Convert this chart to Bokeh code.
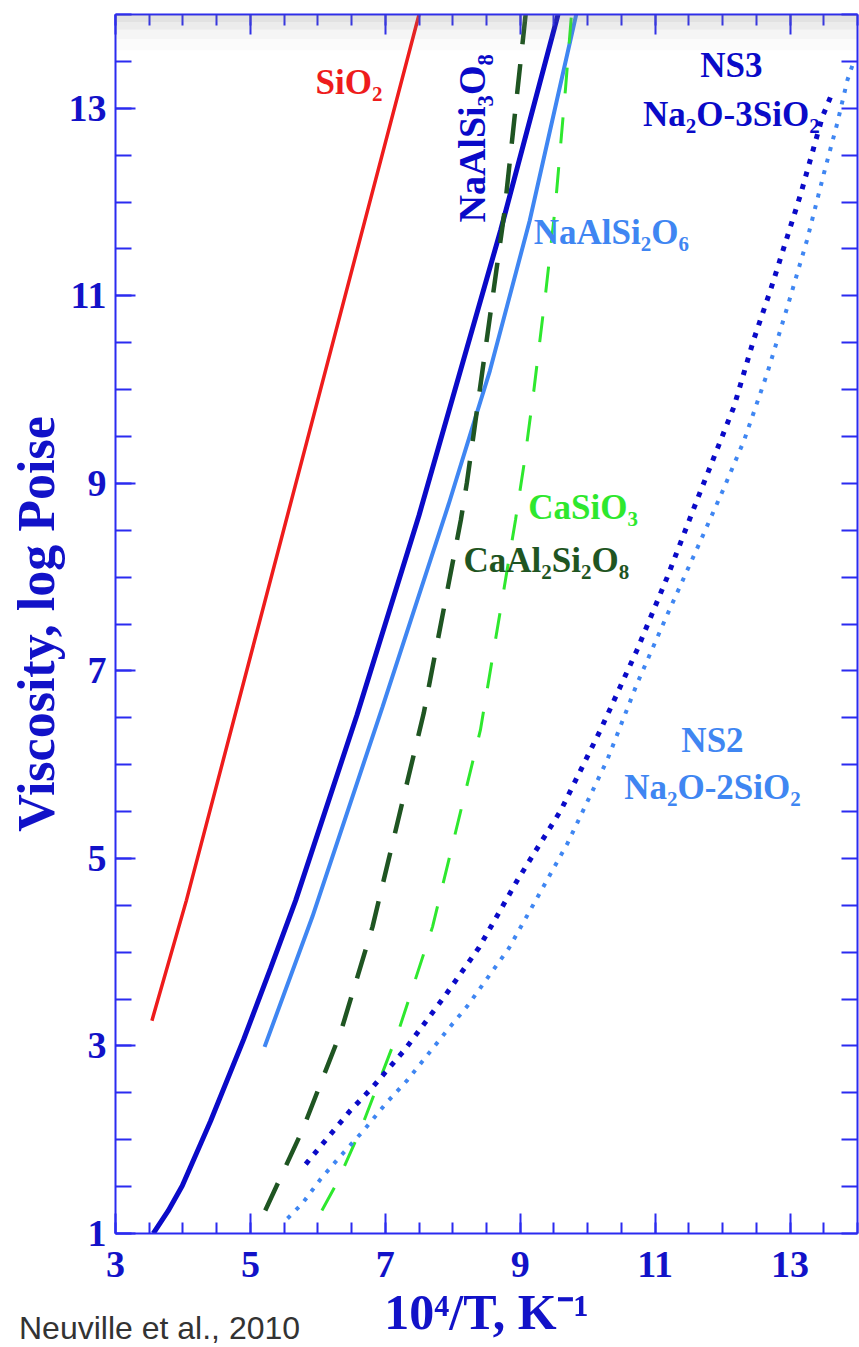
import numpy as np
from bokeh.plotting import figure
from bokeh.models import FixedTicker, LinearAxis, Label, Range1d, BoxAnnotation, Div
from bokeh.layouts import column
from bokeh.embed import file_html
from bokeh.resources import INLINE

# ---------------- data ----------------
sio2_x = [3.54, 4.05, 5.55, 7.50]
sio2_y = [3.27, 4.55, 8.66, 14.0]

albite_x = [3.56, 3.78, 3.99, 4.41, 4.90, 5.30, 5.67, 6.58, 7.50, 8.71, 9.56]
albite_y = [1.00, 1.24, 1.51, 2.20, 3.07, 3.83, 4.55, 6.53, 8.66, 11.70, 14.0]

jadeite_x = [5.21, 5.92, 6.96, 7.94, 8.55, 9.14, 9.83]
jadeite_y = [2.99, 4.38, 6.62, 8.78, 10.20, 11.80, 14.0]

anorthite_x = [5.22, 5.77, 6.34, 6.81, 7.57, 8.12, 8.21, 8.76, 9.08]
anorthite_y = [1.245, 2.10, 3.15, 4.27, 6.55, 8.61, 9.01, 11.86, 14.0]

wollastonite_x = [6.06, 6.29, 6.63, 7.20, 7.70, 8.41, 8.93, 9.06, 9.20, 9.38, 9.52, 9.67, 9.76]
wollastonite_y = [1.245, 1.55, 2.10, 3.17, 4.27, 6.37, 8.61, 9.22, 9.98, 11.05, 11.95, 13.20, 14.0]

ns3_x = [5.82, 6.48, 6.81, 7.30, 7.87, 8.39, 8.96, 9.60, 10.19, 10.73, 11.18, 11.62, 12.17, 12.46, 12.71, 13.16, 13.48, 13.60]
ns3_y = [1.74, 2.31, 2.56, 2.97, 3.52, 4.05, 4.77, 5.51, 6.37, 7.22, 8.00, 8.82, 9.82, 10.53, 11.06, 12.09, 12.91, 13.12]

ns2_x = [5.55, 5.77, 6.04, 6.34, 6.68, 7.00, 7.32, 7.62, 7.92, 8.21, 8.51, 8.83, 9.15, 9.70, 10.29, 10.73, 11.18, 11.65, 12.02, 12.32, 12.66, 12.96, 13.25, 13.50, 13.70, 13.85, 13.95]
ns2_y = [1.16, 1.32, 1.58, 1.83, 2.10, 2.38, 2.63, 2.90, 3.17, 3.42, 3.72, 4.04, 4.45, 5.16, 6.05, 6.86, 7.60, 8.35, 8.95, 9.46, 10.17, 10.88, 11.59, 12.30, 12.84, 13.30, 13.51]

x_major = [3, 5, 7, 9, 11, 13]
y_major = [1, 3, 5, 7, 9, 11, 13]

# ---------------- styling ----------------
AXIS = "#2b2bf0"
TXT = "#1212c8"
RED = "#ee1c1c"
DBLUE = "#0a0ac8"
LBLUE = "#3f86f2"
DGREEN = "#1f5522"
BGREEN = "#2ee82e"
SERIF = "Liberation Serif"

W, H = 859, 1347
p = figure(width=W, height=H, x_range=Range1d(3, 14), y_range=Range1d(1, 14),
           output_backend="svg", toolbar_location=None,
           min_border_left=115, min_border_right=2, min_border_top=14, min_border_bottom=114,
           x_axis_location=None, y_axis_location=None)
p.background_fill_color = "white"
p.border_fill_color = "white"
p.outline_line_color = None
p.xgrid.visible = False
p.ygrid.visible = False

x_minor = list(np.arange(3, 14.01, 0.5))
y_minor = list(np.arange(1, 14.01, 0.5))
xt = FixedTicker(ticks=x_major, minor_ticks=x_minor)
yt = FixedTicker(ticks=y_major, minor_ticks=y_minor)


def style(ax):
    ax.axis_line_color = AXIS
    ax.axis_line_width = 2
    ax.major_tick_line_color = AXIS
    ax.minor_tick_line_color = AXIS
    ax.major_tick_line_width = 2
    ax.minor_tick_line_width = 2
    ax.major_tick_out = 0
    ax.minor_tick_out = 0
    ax.major_label_text_font = SERIF
    ax.major_label_text_font_style = "bold"
    ax.major_label_text_color = TXT
    ax.major_label_text_font_size = "38px"
    ax.axis_label_text_font = SERIF
    ax.axis_label_text_font_style = "bold"
    ax.axis_label_text_color = TXT


bottom = LinearAxis(ticker=xt, axis_label="10\u2074/T, K\u207b\u00b9")
style(bottom)
bottom.major_tick_in = 20
bottom.minor_tick_in = 11
bottom.major_label_standoff = 18
bottom.axis_label_text_font_size = "50px"
bottom.axis_label_standoff = 4
p.add_layout(bottom, "below")

top = LinearAxis(ticker=xt)
style(top)
top.major_label_overrides = {t: "" for t in x_major}
top.major_label_text_font_size = "2px"
top.major_tick_in = 20
top.minor_tick_in = 11
top.major_label_standoff = 11
top.background_fill_color = "#a8a8a8"
p.add_layout(top, "above")

left = LinearAxis(ticker=yt, axis_label="Viscosity, log Poise")
style(left)
left.major_tick_in = 20
left.minor_tick_in = 16
left.major_label_standoff = 9
left.axis_label_text_font_size = "52px"
left.axis_label_standoff = 1
p.add_layout(left, "left")

right = LinearAxis(ticker=FixedTicker(ticks=[], minor_ticks=y_minor))
style(right)
right.minor_tick_in = 16
right.major_label_standoff = 0
p.add_layout(right, "right")

# faint shadow along the top edge, as in the photographed reference
for b, a in [(13.62, 0.03), (13.74, 0.05), (13.84, 0.07), (13.92, 0.09)]:
    p.add_layout(BoxAnnotation(bottom=b, fill_color="#808080", fill_alpha=a, line_color=None))

# ---------------- curves ----------------
p.line(sio2_x, sio2_y, color=RED, line_width=3.5)
p.line(albite_x, albite_y, color=DBLUE, line_width=5)
p.line(jadeite_x, jadeite_y, color=LBLUE, line_width=4)
p.line(anorthite_x, anorthite_y, color=DGREEN, line_width=4.5, line_dash="30 20")
p.line(wollastonite_x, wollastonite_y, color=BGREEN, line_width=3, line_dash="26 24")
p.line(ns3_x, ns3_y, color=DBLUE, line_width=5, line_dash="5 8")
p.line(ns2_x, ns2_y, color=LBLUE, line_width=4, line_dash="4 8")

# ---------------- labels ----------------
def lab(x, y, text, color, size="35px", align="left", angle=0.0, baseline="alphabetic"):
    p.add_layout(Label(x=x, y=y, text=text, text_color=color, text_font=SERIF,
                       text_font_style="bold", text_font_size=size, text_align=align,
                       text_baseline=baseline, angle=angle))


lab(5.965, 13.27, "SiO\u2082", RED)
lab(8.29, 12.68, "NaAlSi\u2083O\u2088", DBLUE, size="38px", align="center",
    angle=np.pi / 2, baseline="middle")
lab(9.20, 11.67, "NaAlSi\u2082O\u2086", LBLUE)
lab(12.13, 13.46, "NS3", DBLUE, align="center")
lab(12.13, 12.93, "Na\u2082O-3SiO\u2082", DBLUE, align="center")
lab(9.12, 8.74, "CaSiO\u2083", BGREEN)
lab(8.16, 8.18, "CaAl\u2082Si\u2082O\u2088", DGREEN)
lab(11.85, 6.26, "NS2", LBLUE, align="center")
lab(11.85, 5.76, "Na\u2082O-2SiO\u2082", LBLUE, align="center")

# source note at the bottom-left corner (overlaps the figure's bottom border)
note = Div(text="Neuville et al., 2010", width=340, height=34, margin=(-36, 0, 0, 19),
           styles={"font-family": "'Liberation Sans', Arial, sans-serif", "font-size": "32px",
                   "color": "#333333", "line-height": "34px", "white-space": "nowrap"})

layout = column(p, note, spacing=0)
open("out.html", "w").write(file_html(layout, INLINE))
